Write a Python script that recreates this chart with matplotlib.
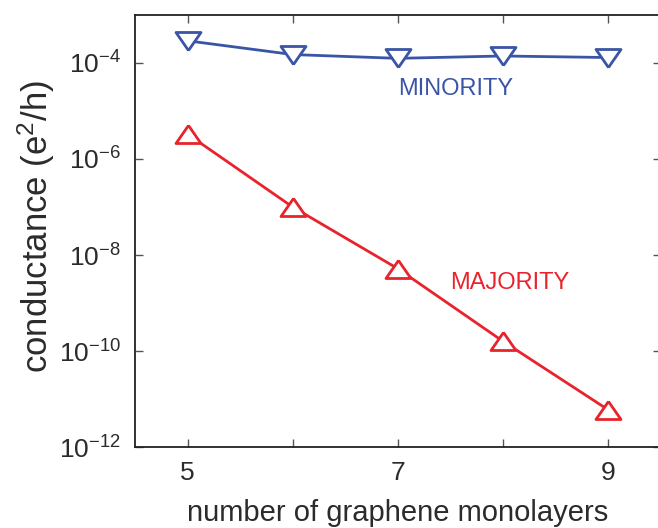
import matplotlib
matplotlib.use('Agg')
import matplotlib.pyplot as plt
from matplotlib.ticker import FixedLocator, NullLocator

plt.rcParams['font.family'] = ['Liberation Sans', 'DejaVu Sans']
plt.rcParams['mathtext.fontset'] = 'custom'
plt.rcParams['mathtext.rm'] = 'Liberation Sans'
plt.rcParams['mathtext.it'] = 'Liberation Sans'

# data
layers = [5, 6, 7, 8, 9]
minority = [2.9e-4, 1.5e-4, 1.25e-4, 1.4e-4, 1.3e-4]
majority = [3.3e-6, 1.0e-7, 5.2e-9, 1.6e-10, 6.0e-12]
xtick_labels = ['5', '', '7', '', '9']

blue = '#3b55a6'
red = '#e8232b'
txt = '#2b2b2b'

# wide flat triangles like the original markers
tri_up = [(0, 0.72), (-1, -0.72), (1, -0.72), (0, 0.72)]
tri_down = [(0, -0.72), (-1, 0.72), (1, 0.72), (0, -0.72)]

fig = plt.figure(figsize=(6.58, 5.28), dpi=100)
ax = fig.add_axes([0.2052, 0.1534, 0.7986, 0.8182])

ax.plot(layers, minority, color=blue, lw=2.0, marker=tri_down, ms=18,
        mfc='white', mec=blue, mew=2.0)
ax.plot(layers, majority, color=red, lw=2.0, marker=tri_up, ms=18,
        mfc='white', mec=red, mew=2.0)

ax.set_yscale('log')
ax.set_xlim(4.5, 9.5)
ax.set_ylim(1e-12, 1e-3)
ax.yaxis.set_major_locator(FixedLocator([1e-12, 1e-10, 1e-8, 1e-6, 1e-4]))
ax.yaxis.set_minor_locator(NullLocator())
ax.set_xticks(layers)
ax.set_xticklabels(xtick_labels)

ax.tick_params(direction='in', length=6, width=1, top=True, right=True,
               labelsize=19, colors='#555555', labelcolor=txt)
ax.tick_params(axis='x', pad=10)
ax.tick_params(axis='y', pad=10)
for s in ax.spines.values():
    s.set_linewidth(1.3)
    s.set_color('#222222')

ax.text(7.0, 2.9e-5, 'MINORITY', color=blue, fontsize=17, ha='left', va='center')
ax.text(7.5, 2.6e-9, 'MAJORITY', color=red, fontsize=17, ha='left', va='center')

ax.set_xlabel('number of graphene monolayers', fontsize=21, color=txt)
ax.xaxis.set_label_coords(0.5, -0.121)
ax.set_ylabel('conductance (e$^{2}$/h)', fontsize=25, color=txt)
ax.yaxis.set_label_coords(-0.148, 0.51)

fig.savefig('out.png', dpi=100)
